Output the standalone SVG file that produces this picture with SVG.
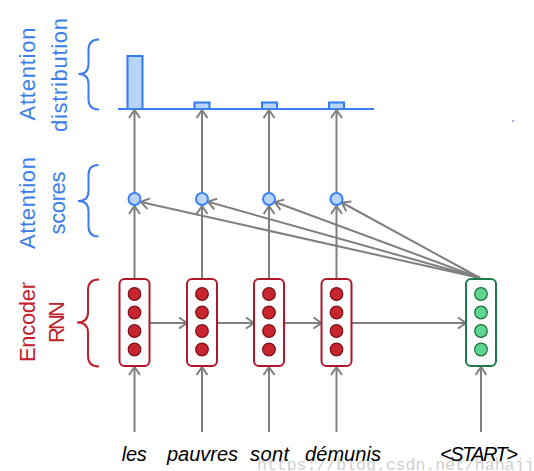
<svg xmlns="http://www.w3.org/2000/svg" width="534" height="471" viewBox="0 0 534 471">
<style>
.lbl{font-family:"Liberation Sans",Arial,sans-serif;font-size:22px;text-anchor:middle}
.blue{fill:#3b7de9}
.red{fill:#c0202a}
.word{font-family:"Liberation Sans",Arial,sans-serif;font-size:20px;font-style:italic;text-anchor:middle;fill:#000}
.wm{font-family:"Liberation Mono","DejaVu Sans Mono",monospace;font-size:16.5px;fill:#cfcfcf}
.brace{fill:none;stroke-width:2}
.arr{fill:none;stroke:#7f7f7f;stroke-width:2;marker-end:url(#ah)}
.enc{fill:#fff;stroke:#b01829;stroke-width:2}
.encdot{fill:#c8262f;stroke:#7e0e18;stroke-width:1.2}
.dec{fill:#fff;stroke:#1e7a48;stroke-width:2}
.decdot{fill:#5fd68f;stroke:#186a38;stroke-width:1.2}
.score{fill:#bcd6fb;stroke:#3a80f5;stroke-width:2}
.bar{fill:#b8d4fb;stroke:#2f7bf5;stroke-width:2}
</style>
<defs>
<marker id="ah" markerUnits="userSpaceOnUse" markerWidth="16" markerHeight="16" viewBox="-10 -8 16 16" refX="0" refY="0" orient="auto" overflow="visible">
<path d="M-8,-5.5 L0,0 L-8,5.5" fill="none" stroke="#7f7f7f" stroke-width="2"/>
</marker>
</defs>
<rect width="534" height="471" fill="#fff"/>
<text class="wm" x="257" y="470">https://blog.csdn.net/hahajj</text>
<rect x="512" y="120" width="2" height="2" fill="#c09ae8"/>

<g id="labels">
<text class="lbl blue" transform="translate(35,74) rotate(-90)" textLength="93">Attention</text>
<text class="lbl blue" transform="translate(66.5,75) rotate(-90)" textLength="114">distribution</text>
<text class="lbl blue" transform="translate(35,203) rotate(-90)" textLength="92">Attention</text>
<text class="lbl blue" transform="translate(65,203) rotate(-90)" textLength="63">scores</text>
<text class="lbl red" transform="translate(35,322) rotate(-90)" textLength="80">Encoder</text>
<text class="lbl red" transform="translate(64,322) rotate(-90)" textLength="42">RNN</text>
</g>

<g id="braces">
<path class="brace" stroke="#3b7de9" d="M99,39.5 Q88.5,39.5 88.5,50 L88.5,64 Q88.5,74 78.5,74 Q88.5,74 88.5,84 L88.5,99 Q88.5,109.5 99,109.5"/>
<path class="brace" stroke="#3b7de9" d="M98.5,165 Q88.5,165 88.5,175 L88.5,191 Q88.5,201 78,201 Q88.5,201 88.5,211 L88.5,226.5 Q88.5,236.5 98.5,236.5"/>
<path class="brace" stroke="#c0202a" d="M99,279.5 Q88,279.5 88,290 L88,312.5 Q88,322.5 77,322.5 Q88,322.5 88,332.5 L88,356 Q88,366.5 99,366.5"/>
</g>

<g id="distribution">
<rect class="bar" x="127.5" y="56" width="15" height="53"/>
<rect class="bar" x="194.5" y="102.5" width="15" height="6.5"/>
<rect class="bar" x="262" y="102.5" width="15" height="6.5"/>
<rect class="bar" x="329" y="102.5" width="15" height="6.5"/>
<line x1="118" y1="109" x2="374" y2="109" stroke="#3a80f5" stroke-width="2"/>
</g>

<g id="connectors">
<line class="arr" x1="134.5" y1="192.5" x2="134.5" y2="110"/>
<line class="arr" x1="202" y1="192.5" x2="202" y2="110"/>
<line class="arr" x1="269" y1="192.5" x2="269" y2="110"/>
<line class="arr" x1="336.5" y1="192.5" x2="336.5" y2="110"/>
<line class="arr" x1="134.5" y1="279" x2="134.5" y2="206"/>
<line class="arr" x1="202" y1="279" x2="202" y2="206"/>
<line class="arr" x1="269" y1="279" x2="269" y2="206"/>
<line class="arr" x1="336.5" y1="279" x2="336.5" y2="206"/>
<line class="arr" x1="480" y1="278" x2="140.8" y2="202"/>
<line class="arr" x1="480" y1="278" x2="208" y2="201.8"/>
<line class="arr" x1="480" y1="278" x2="274.8" y2="202"/>
<line class="arr" x1="480" y1="278" x2="341.8" y2="202.5"/>
<line class="arr" x1="149.5" y1="323" x2="187" y2="323"/>
<line class="arr" x1="217" y1="323" x2="254" y2="323"/>
<line class="arr" x1="284" y1="323" x2="321.5" y2="323"/>
<line class="arr" x1="351.5" y1="323" x2="466" y2="323"/>
<line class="arr" x1="134.5" y1="432" x2="134.5" y2="367"/>
<line class="arr" x1="202" y1="432" x2="202" y2="367"/>
<line class="arr" x1="269" y1="432" x2="269" y2="367"/>
<line class="arr" x1="336.5" y1="432" x2="336.5" y2="367"/>
<line class="arr" x1="481" y1="432" x2="481" y2="367"/>
</g>

<g id="scores">
<circle class="score" cx="134.5" cy="199" r="6"/>
<circle class="score" cx="202" cy="199" r="6"/>
<circle class="score" cx="269" cy="199" r="6"/>
<circle class="score" cx="336.5" cy="199" r="6"/>
</g>

<g id="enc1">
<rect class="enc" x="119.5" y="279" width="30" height="87" rx="5"/>
<circle class="encdot" cx="134.5" cy="294" r="6.3"/><circle class="encdot" cx="134.5" cy="312.5" r="6.3"/><circle class="encdot" cx="134.5" cy="331" r="6.3"/><circle class="encdot" cx="134.5" cy="349.5" r="6.3"/>
</g>
<g id="enc2">
<rect class="enc" x="187" y="279" width="30" height="87" rx="5"/>
<circle class="encdot" cx="202" cy="294" r="6.3"/><circle class="encdot" cx="202" cy="312.5" r="6.3"/><circle class="encdot" cx="202" cy="331" r="6.3"/><circle class="encdot" cx="202" cy="349.5" r="6.3"/>
</g>
<g id="enc3">
<rect class="enc" x="254" y="279" width="30" height="87" rx="5"/>
<circle class="encdot" cx="269" cy="294" r="6.3"/><circle class="encdot" cx="269" cy="312.5" r="6.3"/><circle class="encdot" cx="269" cy="331" r="6.3"/><circle class="encdot" cx="269" cy="349.5" r="6.3"/>
</g>
<g id="enc4">
<rect class="enc" x="321.5" y="279" width="30" height="87" rx="5"/>
<circle class="encdot" cx="336.5" cy="294" r="6.3"/><circle class="encdot" cx="336.5" cy="312.5" r="6.3"/><circle class="encdot" cx="336.5" cy="331" r="6.3"/><circle class="encdot" cx="336.5" cy="349.5" r="6.3"/>
</g>
<g id="dec1">
<rect class="dec" x="466" y="279" width="30" height="87" rx="5"/>
<circle class="decdot" cx="481" cy="294" r="6.3"/><circle class="decdot" cx="481" cy="312.5" r="6.3"/><circle class="decdot" cx="481" cy="331" r="6.3"/><circle class="decdot" cx="481" cy="349.5" r="6.3"/>
</g>

<g id="words">
<text class="word" x="134.3" y="461" textLength="25">les</text>
<text class="word" x="202.5" y="461" textLength="71">pauvres</text>
<text class="word" x="269.5" y="461" textLength="39">sont</text>
<text class="word" x="343" y="461" textLength="76">démunis</text>
<text class="word" x="479" y="461" textLength="78">&lt;START&gt;</text>
</g>
</svg>
